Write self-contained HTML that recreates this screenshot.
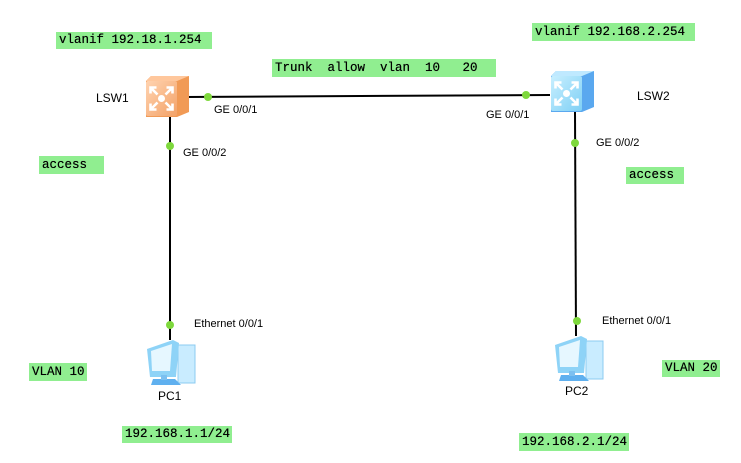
<!DOCTYPE html>
<html><head><meta charset="utf-8"><style>
body{margin:0;width:741px;height:463px;background:#fff;overflow:hidden;position:relative;font-family:"Liberation Sans",sans-serif}
.g{position:absolute;background:#90ee90;font-family:"Liberation Mono",monospace;font-size:12.5px;line-height:18px;padding-left:3px;color:#000;white-space:pre;box-sizing:border-box;text-shadow:0 0 0.4px #000}
.t{position:absolute;font-size:11px;color:#000;white-space:pre}
.n{position:absolute;font-size:12px;color:#000}
</style></head><body>
<svg width="741" height="463" style="position:absolute;left:0;top:0">
<defs>
<linearGradient id="o" x1="0" y1="0" x2="1" y2="1"><stop offset="0" stop-color="#ffd3b0"/><stop offset="1" stop-color="#f3a268"/></linearGradient>
<linearGradient id="b" x1="0" y1="0" x2="1" y2="1"><stop offset="0" stop-color="#c8efff"/><stop offset="1" stop-color="#7fd0f5"/></linearGradient>
<g id="arr" stroke="#fff" stroke-width="2.6" fill="none">
<path d="M-11,-11 L-4,-4 M-11,-5 L-11,-11 L-5,-11"/>
<path d="M11,-11 L4,-4 M11,-5 L11,-11 L5,-11"/>
<path d="M-11,11 L-4,4 M-11,5 L-11,11 L-5,11"/>
<path d="M11,11 L4,4 M11,5 L11,11 L5,11"/>
<circle cx="0" cy="0" r="3.5" fill="#fff" stroke="none"/>
</g>
<g id="pc">
<polygon points="35,8 52,8 52,46 35,46" fill="#c9ecff" stroke="#8ccbf0"/>
<polygon points="4,12 30,3 36,6 33,40 7,40" fill="#8ed3f7"/>
<polygon points="8,14 29,7 27,34 9,34" fill="#e6f7ff"/>
<polygon points="10,42 32,42 38,48 8,48" fill="#5fb0ef"/>
<rect x="18" y="38" width="6" height="5" fill="#7cc0f0"/>
</g>
</defs>
<line x1="185" y1="97" x2="550" y2="95" stroke="#000" stroke-width="2"/>
<line x1="170" y1="116" x2="170" y2="340" stroke="#000" stroke-width="2"/>
<line x1="575" y1="112" x2="576" y2="336" stroke="#000" stroke-width="2"/>
<polygon points="146,81 151,76 189,76 189,112 177,117 146,117" fill="#f19a55"/>
<polygon points="146,81 151,76 189,76 177,81" fill="#ffc79c"/>
<rect x="146" y="81" width="31" height="35" rx="2" fill="url(#o)"/>
<g transform="translate(161.5,98.5)"><use href="#arr"/></g>
<polygon points="551,76 556,71 594,71 594,107 582,112 551,112" fill="#5aa8ef"/>
<polygon points="551,76 556,71 594,71 582,76" fill="#bfe9ff"/>
<rect x="551" y="76" width="31" height="35" rx="2" fill="url(#b)"/>
<g transform="translate(566.5,93.5)"><use href="#arr"/></g>
<use href="#pc" x="143" y="337"/>
<use href="#pc" x="551" y="333"/>
<circle cx="208" cy="97" r="4" fill="#7ed83c"/>
<circle cx="526" cy="95" r="4" fill="#7ed83c"/>
<circle cx="170" cy="146" r="4" fill="#7ed83c"/>
<circle cx="575" cy="143" r="4" fill="#7ed83c"/>
<circle cx="170" cy="325" r="4" fill="#7ed83c"/>
<circle cx="577" cy="321" r="4" fill="#7ed83c"/>
</svg>
<div class="g" style="left:56px;top:32px;width:156px;height:17px;line-height:17px">vlanif 192.18.1.254</div>
<div class="g" style="left:272px;top:59px;width:224px;height:18px">Trunk  allow  vlan  10   20</div>
<div class="g" style="left:532px;top:23px;width:163px;height:18px">vlanif 192.168.2.254</div>
<div class="g" style="left:39px;top:156px;width:65px;height:18px">access</div>
<div class="g" style="left:626px;top:167px;width:58px;height:17px;line-height:17px">access</div>
<div class="g" style="left:29px;top:363px;width:58px;height:18px">VLAN 10</div>
<div class="g" style="left:662px;top:360px;width:58px;height:17px;line-height:17px">VLAN 20</div>
<div class="g" style="left:122px;top:426px;width:110px;height:17px;line-height:17px">192.168.1.1/24</div>
<div class="g" style="left:519px;top:433px;width:110px;height:18px">192.168.2.1/24</div>
<div class="n" style="left:96px;top:91px">LSW1</div>
<div class="n" style="left:637px;top:89px">LSW2</div>
<div class="n" style="left:158px;top:389px">PC1</div>
<div class="n" style="left:565px;top:384px">PC2</div>
<div class="t" style="left:214px;top:104px">GE 0/0/1</div>
<div class="t" style="left:486px;top:109px">GE 0/0/1</div>
<div class="t" style="left:183px;top:147px">GE 0/0/2</div>
<div class="t" style="left:596px;top:137px">GE 0/0/2</div>
<div class="t" style="left:194px;top:318px">Ethernet 0/0/1</div>
<div class="t" style="left:602px;top:315px">Ethernet 0/0/1</div>
</body></html>
